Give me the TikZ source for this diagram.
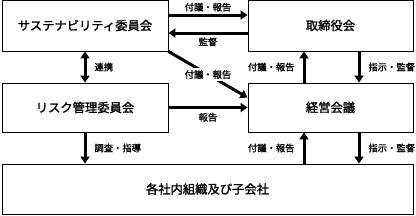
\documentclass[tikz,border=0pt]{standalone}
\usepackage{fontspec}
\setmainfont{Noto Sans CJK JP}[AutoFakeBold=1.5]
\usetikzlibrary{positioning,arrows.meta,calc}
\tikzset{
  box/.style={draw=black,fill=white,line width=0.9pt,inner sep=0pt,align=center,font=\fontsize{12.3}{14}\selectfont\bfseries},
  flow/.style={-{Triangle[length=7pt,width=9pt]},draw=black,line width=3pt},
  dflow/.style={{Triangle[length=7pt,width=9pt]}-{Triangle[length=7pt,width=9pt]},draw=black,line width=3pt},
  lbl/.style={font=\fontsize{9.3}{10}\selectfont\bfseries,inner sep=1pt}}

\begin{document}
\begin{tikzpicture}[x=1pt,y=1pt]
  \useasboundingbox (0,0) rectangle (416,215);
  \node[box,minimum width=166pt,minimum height=51pt] (sust) at (85,189.5) {サステナビリティ委員会};
  \node[box,minimum width=165pt,minimum height=51pt] (board) at (330.5,189.5) {取締役会};
  \node[box,minimum width=166pt,minimum height=49pt] (risk) at (85,107.5) {リスク管理委員会};
  \node[box,minimum width=165pt,minimum height=49pt] (mgmt) at (330.5,107.5) {経営会議};
  \node[box,minimum width=411pt,minimum height=50pt] (group) at (207.5,26) {各社内組織及び子会社};
  \coordinate (upL) at ([xshift=-26.5pt]mgmt.south);
  \coordinate (dnR) at ([xshift=28.5pt]mgmt.south);
  % top row
  \draw[flow] ([yshift=10.5pt]sust.east) -- node[lbl,above=1pt]{付議・報告} ([yshift=10.5pt]board.west);
  \draw[flow] ([yshift=-7.5pt]board.west) -- node[lbl,below=2pt]{監督} ([yshift=-7.5pt]sust.east);
  \draw[flow] (sust.south east) -- node[lbl,fill=white,inner sep=2pt,pos=0.5]{付議・報告} ([yshift=-15pt]mgmt.north west);
  % left column
  \draw[dflow] (sust.south) -- node[lbl,right=7pt]{連携} (risk.north);
  \draw[flow] (risk.south) -- node[lbl,right=7pt]{調査・指導} (group.north -| risk.south);
  \draw[flow] (risk.east) -- node[lbl,below=3pt]{報告} (mgmt.west);
  % right column
  \draw[flow] ([xshift=-26.5pt]mgmt.north) -- node[lbl,left=7pt]{付議・報告} ([xshift=-26.5pt]board.south);
  \draw[flow] ([xshift=28.5pt]board.south) -- node[lbl,right=7pt]{指示・監督} ([xshift=28.5pt]mgmt.north);
  \draw[flow] (group.north -| upL) -- node[lbl,left=7pt]{付議・報告} (upL);
  \draw[flow] (dnR) -- node[lbl,right=7pt]{指示・監督} (group.north -| dnR);
\end{tikzpicture}
\end{document}
